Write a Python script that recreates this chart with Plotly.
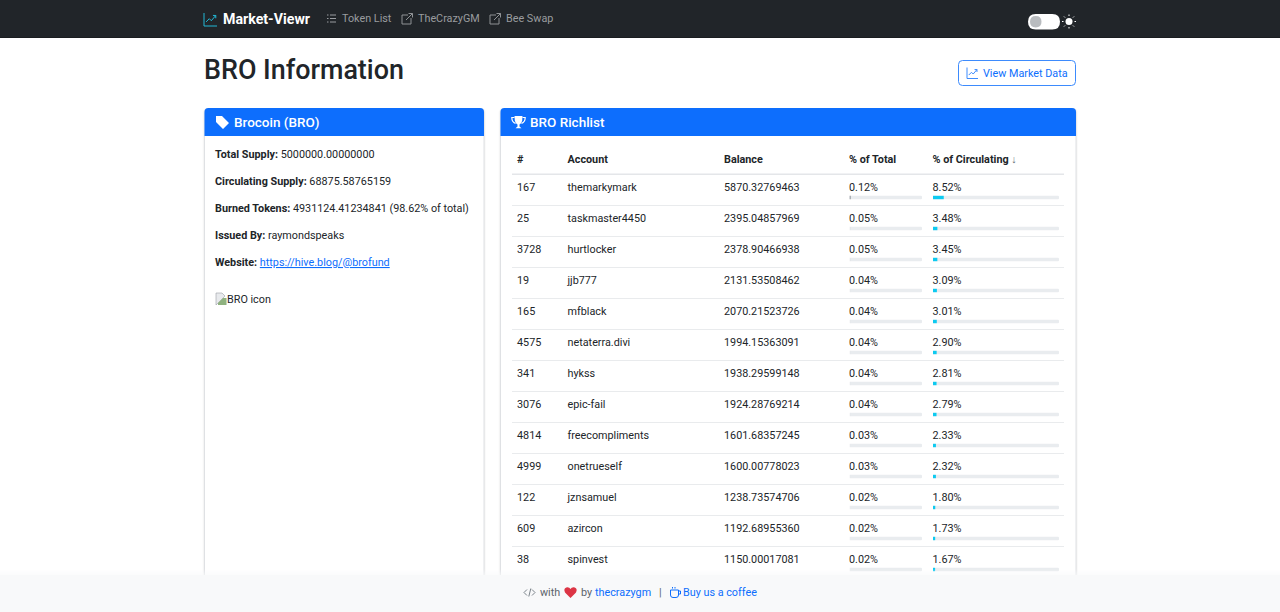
import plotly.graph_objects as go

# table data
ranks = ["167", "25", "3728", "19", "165", "4575", "341", "3076", "4814", "4999", "122", "609", "38"]
accounts = ["themarkymark", "taskmaster4450", "hurtlocker", "jjb777", "mfblack", "netaterra.divi", "hykss",
            "epic-fail", "freecompliments", "onetrueself", "jznsamuel", "azircon", "spinvest"]
balances = ["5870.32769463", "2395.04857969", "2378.90466938", "2131.53508462", "2070.21523726", "1994.15363091",
            "1938.29599148", "1924.28769214", "1601.68357245", "1600.00778023", "1238.73574706", "1192.68955360",
            "1150.00017081"]
pct_total = [0.12, 0.05, 0.05, 0.04, 0.04, 0.04, 0.04, 0.04, 0.03, 0.03, 0.02, 0.02, 0.02]
pct_circ = [8.52, 3.48, 3.45, 3.09, 3.01, 2.90, 2.81, 2.79, 2.33, 2.32, 1.80, 1.73, 1.67]
headers = ["#", "Account", "Balance", "% of Total", "% of Circulating <span style='color:#6c757d'>↓</span>"]

token_info = [("Total Supply:", "5000000.00000000"),
              ("Circulating Supply:", "68875.58765159"),
              ("Burned Tokens:", "4931124.41234841 (98.62% of total)"),
              ("Issued By:", "raymondspeaks")]

W, H = 1280, 612
FONT = "Roboto"
BODY = 10.8
ROW0, ROWH = 197.5, 31
COLS = [517, 567.5, 724, 849, 932.5]
shapes = []
notes = []


def rrect(x0, y0, x1, y1, r, rt=True, rb=True):
    tr = r if rt else 0
    br = r if rb else 0
    p = f"M{x0+tr},{y0} L{x1-tr},{y0} Q{x1},{y0} {x1},{y0+tr} L{x1},{y1-br} Q{x1},{y1} {x1-br},{y1} "
    p += f"L{x0+br},{y1} Q{x0},{y1} {x0},{y1-br} L{x0},{y0+tr} Q{x0},{y0} {x0+tr},{y0} Z"
    return p


def add_shape(path, fill=None, line=None, lw=1, layer="above"):
    shapes.append(dict(type="path", path=path, xref="x", yref="y", layer=layer,
                       fillcolor=fill if fill else "rgba(0,0,0,0)",
                       line=dict(color=line if line else "rgba(0,0,0,0)", width=lw if line else 0)))


def rect(x0, y0, x1, y1, fill, layer="below"):
    shapes.append(dict(type="rect", x0=x0, y0=y0, x1=x1, y1=y1, xref="x", yref="y", layer=layer,
                       fillcolor=fill, line=dict(width=0)))


def label(x, y, text, size=BODY, color="#212529", weight=None, anchor="left"):
    font = dict(family=FONT, size=size, color=color)
    if weight:
        font["weight"] = weight
    notes.append(dict(x=x, y=y, xref="x", yref="y", text=text, showarrow=False, xanchor=anchor, yanchor="middle",
                      font=font, borderpad=0, borderwidth=0, align="left"))


def chart_icon(x, y, s, color, lw=1):
    k = s / 16
    add_shape(f"M{x},{y} L{x},{y+16*k} L{x+16*k},{y+16*k}", None, color, lw)
    add_shape(f"M{x+2.5*k},{y+11*k} L{x+6.5*k},{y+7*k} L{x+9*k},{y+9.5*k} L{x+14.5*k},{y+3*k} "
              f"M{x+11*k},{y+3*k} L{x+14.5*k},{y+3*k} L{x+14.5*k},{y+6.5*k}", None, color, lw)


def link_icon(x, y, color):
    add_shape(f"M{x+6},{y+2} L{x},{y+2} L{x},{y+11} L{x+9},{y+11} L{x+9},{y+5}", None, color, 1)
    add_shape(f"M{x+4},{y+7} L{x+10.5},{y+0.5} M{x+6.5},{y+0.5} L{x+10.5},{y+0.5} L{x+10.5},{y+4.5}", None, color, 1)


# navbar
rect(0, 0, W, 37.5, "#212529")
rect(0, 37, W, 38, "#1a1d20")
chart_icon(204, 13, 13, "#22b8d6", 1)
label(223, 18.5, "Market-Viewr", 14.2, "#ffffff", 700)
for yy in [15, 18.5, 22]:
    add_shape(f"M327,{yy} L328.5,{yy} M330,{yy} L336,{yy}", None, "#9a9da1", 1)
label(342, 18.5, "Token List", BODY, "#999c9f")
link_icon(402, 13, "#8f9295")
label(418, 18.5, "TheCrazyGM", BODY, "#999c9f")
link_icon(490, 13, "#8f9295")
label(506, 18.5, "Bee Swap", BODY, "#999c9f")

# theme toggle
add_shape(rrect(1028, 14, 1060, 29.5, 7.7), "#ffffff")
add_shape(rrect(1030, 16, 1041.5, 27.5, 5.7), "#b9bcbf")
add_shape(rrect(1065.5, 18, 1072.5, 25, 3.5), "#ffffff")
add_shape("M1069,14.5 L1069,16 M1069,27 L1069,28.5 M1062,21.5 L1063.5,21.5 M1074.5,21.5 L1076,21.5 "
          "M1064,16.5 L1065,17.5 M1073,25.5 L1074,26.5 M1064,26.5 L1065,25.5 M1073,17.5 L1074,16.5",
          None, "#ffffff", 1)

# title and button
label(204, 70, "BRO Information", 26.9, "#212529", 500)
add_shape(rrect(958.5, 60.5, 1075.5, 85.5, 4), "#ffffff", "#3d8bfd", 1)
chart_icon(967, 67.5, 11, "#3d8bfd", 1)
label(983, 73, "View Market Data", BODY, "#0d6efd")

# cards
for x0, x1 in [(204.5, 484), (500.5, 1076)]:
    for grow, col in [(2, "rgba(0,0,0,0.02)"), (1, "rgba(0,0,0,0.04)")]:
        add_shape(rrect(x0 - grow, 108, x1 + grow, 640, 5), col, layer="below")
    add_shape(rrect(x0, 108.5, x1, 640, 4), "#ffffff", "#dfe1e4", 1, layer="below")
    add_shape(rrect(x0, 108, x1, 136, 4, rb=False), "#0d6efd", layer="below")

# card headers
add_shape("M216,116 L222,116 L229,123 L223,129 L216,122 Z M219,118.2 a1.3,1.3 0 1 0 0.01,0 Z", "#ffffff")
label(234, 121.5, "Brocoin (BRO)", 13.5, "#ffffff", 500)
add_shape("M514.5,116 L522.5,116 L522.2,120.5 Q521.5,124 519.5,124.6 L519.5,126.5 L521.5,128.3 L515.5,128.3 "
          "L517.5,126.5 L517.5,124.6 Q515.5,124 514.8,120.5 Z", "#ffffff")
add_shape("M514.5,117.5 L511.8,117.5 Q511.8,122 515.5,123.5 M522.5,117.5 L525.2,117.5 Q525.2,122 521.5,123.5",
          None, "#ffffff", 1.2)
label(530, 121.5, "BRO Richlist", 13.5, "#ffffff", 500)

# token info
for i, (k, v) in enumerate(token_info):
    label(215, 154.5 + 27 * i, f"<b>{k}</b> {v}")
label(215, 262, "<b>Website:</b> <span style='color:#0d6efd'><u>https://hive.blog/@brofund</u></span>")

# broken image
add_shape("M216,293 L222,293 L225,296 L216,305 Z", "#e8eaed", "#9aa0a6", 0.6)
add_shape("M218,303 L223,298 L226.5,298 L226.5,305 L218,305 Z", "#8fb27f")
label(227, 299.5, "BRO icon")

# table lines
rect(512, 173.5, 1064, 175, "#e4e6e9", "below")
for i in range(1, 14):
    rect(512, ROW0 + ROWH * (i - 1) + 7.5, 1064, ROW0 + ROWH * (i - 1) + 8.5, "#e9ebed", "below")

# footer
for i in range(6):
    rect(0, 569 + i, W, 570 + i, f"rgba(248,249,250,{0.06 + 0.1 * i:.2f})", "above")
rect(0, 575, W, H, "#f8f9fa", "above")
add_shape("M527,589.5 L524,592.5 L527,595.5 M528.8,596.5 L530.8,588.5 M532,589.5 L535,592.5 L532,595.5",
          None, "#6c757d", 0.9)
label(539.5, 592.5, "with", BODY, "#5c636a")
add_shape("M570.5,598 L565,592.5 Q563,588 567,587.2 Q569.5,587 570.5,589 Q571.5,587 574,587.2 "
          "Q578,588 576,592.5 Z", "#dc3545")
label(581, 592.5, "by", BODY, "#5c636a")
label(595, 592.5, "thecrazygm", BODY, "#0d6efd")
label(659, 592.5, "|", BODY, "#5c636a")
add_shape("M670.5,590 L678.5,590 L678.5,595 Q678.5,597.5 676,597.5 L673,597.5 Q670.5,597.5 670.5,595 Z "
          "M678.5,591 L680.5,591 L680.5,594 L678.5,594 M672.5,588.5 L672.5,587 M675,588.5 L675,587",
          None, "#0d6efd", 1)
label(683, 592.5, "Buy us a coffee", BODY, "#0d6efd")

fig = go.Figure()

# header row sits on the page axis
fig.add_trace(go.Scatter(x=COLS, y=[160.5] * 5, text=[f"<b>{h}</b>" for h in headers], mode="text",
                         textposition="middle right", textfont=dict(family=FONT, size=BODY, color="#212529"),
                         xaxis="x", yaxis="y", hoverinfo="skip"))

# grey tracks then the filled part
fig.add_trace(go.Bar(x=[100] * 13, y=accounts, orientation="h", xaxis="x2", yaxis="y2", width=0.11,
                     marker=dict(color="#e9ecef", line=dict(width=0)), hoverinfo="skip"))
# these are under a pixel wide, plotly would draw them 1px solid
fig.add_trace(go.Bar(x=pct_total, y=accounts, orientation="h", xaxis="x2", yaxis="y2", width=0.11,
                     marker=dict(color="#6c757d", line=dict(width=0),
                                 opacity=[(v / max(pct_total)) ** 3 for v in pct_total]),
                     hoverinfo="skip"))
fig.add_trace(go.Bar(x=[100] * 13, y=accounts, orientation="h", xaxis="x3", yaxis="y2", width=0.11,
                     marker=dict(color="#e9ecef", line=dict(width=0)), hoverinfo="skip"))
fig.add_trace(go.Bar(x=pct_circ, y=accounts, orientation="h", xaxis="x3", yaxis="y2", width=0.11,
                     marker=dict(color="#0dcaf0", line=dict(width=0)), hoverinfo="skip"))

# table cells, one text trace per column
columns = [ranks, accounts, balances, [f"{v:.2f}%" for v in pct_total], [f"{v:.2f}%" for v in pct_circ]]
for cx, col in zip(COLS, columns):
    fig.add_trace(go.Scatter(x=[cx] * 13, y=accounts, text=col, mode="text", textposition="middle right",
                             textfont=dict(family=FONT, size=BODY, color="#212529"), xaxis="x", yaxis="y3",
                             hoverinfo="skip"))

hidden = dict(visible=False, showgrid=False, zeroline=False, fixedrange=True)
y_cat = dict(hidden, type="category", categoryorder="array", categoryarray=accounts,
             range=[(H - ROW0) / ROWH, -ROW0 / ROWH], domain=[0, 1])
text_top = ROW0 - 9.5
fig.update_layout(
    width=W, height=H, margin=dict(l=0, r=0, t=0, b=0), showlegend=False, barmode="overlay",
    barcornerradius=2, paper_bgcolor="#ffffff", plot_bgcolor="rgba(0,0,0,0)",
    xaxis=dict(hidden, range=[0, W], domain=[0, 1]),
    yaxis=dict(hidden, range=[H, 0], domain=[0, 1]),
    xaxis2=dict(hidden, range=[0, 100], domain=[849.5 / W, 922 / W], anchor="y2"),
    xaxis3=dict(hidden, range=[0, 100], domain=[933 / W, 1059 / W], anchor="y2"),
    yaxis2=dict(y_cat, anchor="x2"),
    yaxis3=dict(y_cat, anchor="x", range=[(H - text_top) / ROWH, -text_top / ROWH]),
    shapes=shapes, annotations=notes,
)

fig.write_html("out.html", config=dict(displayModeBar=False),
               post_script="document.body.style.margin='0';document.body.style.overflow='hidden';")
